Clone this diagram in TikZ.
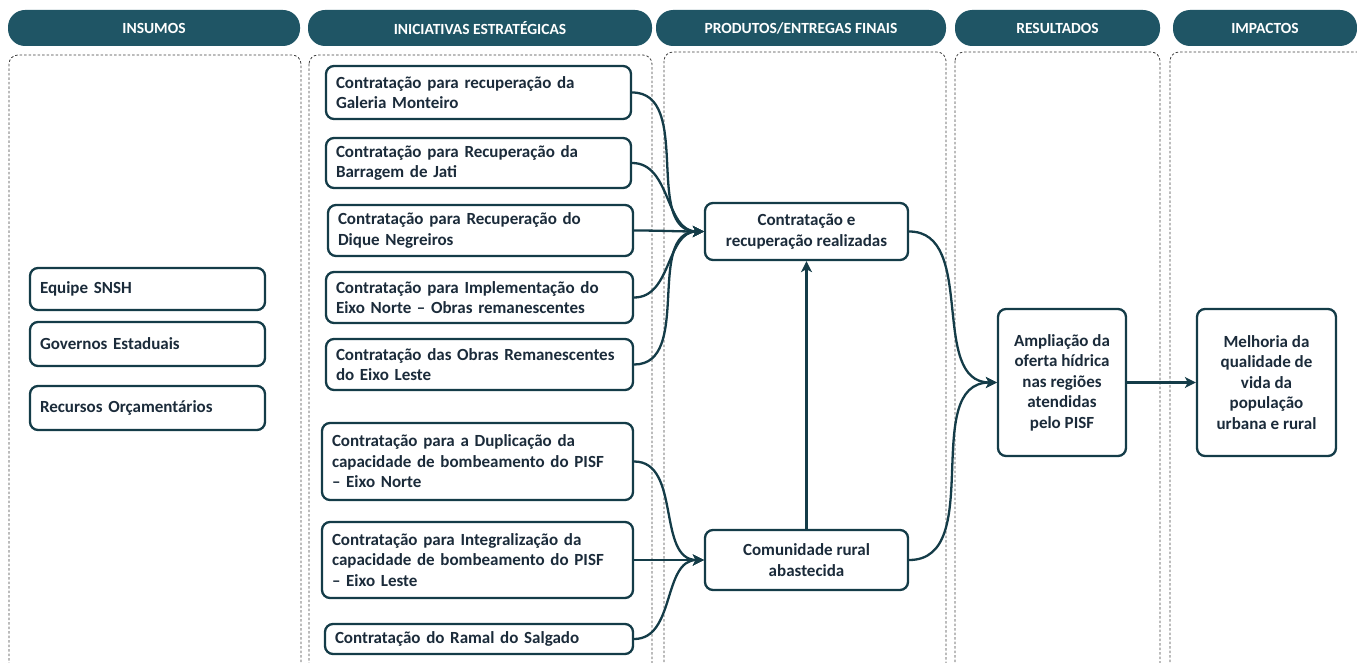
\documentclass[tikz,border=0pt]{standalone}
\usepackage{fontspec}
\setmainfont{Carlito}
\usetikzlibrary{arrows.meta}
\definecolor{hdrfill}{HTML}{1F5565}
\definecolor{boxline}{HTML}{143C48}
\definecolor{txt}{HTML}{1B2B3A}
\definecolor{dashc}{HTML}{404040}
\tikzset{
  hdr/.style={fill=hdrfill, rounded corners=17pt, minimum height=36pt, inner sep=0pt, text=white, font=\fontsize{15.5}{17}\selectfont\bfseries},
  panel/.style={draw=dashc, dashed, dash pattern=on 2.5pt off 2pt, line width=0.8pt, rounded corners=9pt},
  box/.style={draw=boxline, line width=2.3pt, rounded corners=8pt, fill=white, text=txt, inner xsep=10pt, inner ysep=3pt, font=\fontsize{17}{20.5}\selectfont\bfseries},
  lbox/.style={box, align=left},
  cbox/.style={box, align=center},
  arr/.style={draw=boxline, line width=2.3pt, -{Stealth[length=11pt,width=11pt,inset=3pt]}},
}
\begin{document}
\begin{tikzpicture}[x=1pt,y=-1pt]
\clip (0,0) rectangle (1357,663);
\useasboundingbox (0,0) rectangle (1357,663);
% headers
\node[hdr, minimum width=292pt] (h1) at (154,28) {INSUMOS};
\node[hdr, minimum width=344pt] (h2) at (480,28) {INICIATIVAS ESTRATÉGICAS};
\node[hdr, minimum width=290pt] (h3) at (801,28) {PRODUTOS/ENTREGAS FINAIS};
\node[hdr, minimum width=205pt] (h4) at (1057.5,28) {RESULTADOS};
\node[hdr, minimum width=184pt] (h5) at (1265,28) {IMPACTOS};
% panels
\draw[panel] (9,55) rectangle (301,680);
\draw[panel] (309,55) rectangle (652,680);
\draw[panel] (664,52) rectangle (946,680);
\draw[panel] (955,52) rectangle (1160,680);
\draw[panel] (1170,52) rectangle (1380,680);
% insumos
\node[lbox, minimum width=235pt, minimum height=42pt, text width=215pt] (i1) at (147.5,289) {Equipe SNSH};
\node[lbox, minimum width=235pt, minimum height=44pt, text width=215pt] (i2) at (147.5,344) {Governos Estaduais};
\node[lbox, minimum width=235pt, minimum height=44pt, text width=215pt] (i3) at (147.5,408) {Recursos Orçamentários};
% iniciativas
\node[lbox, minimum width=305pt, minimum height=53pt, text width=285pt] (e1) at (478.5,92.5) {Contratação para recuperação da\\Galeria Monteiro};
\node[lbox, minimum width=305pt, minimum height=50pt, text width=285pt] (e2) at (478.5,163) {Contratação para Recuperação da\\Barragem de Jati};
\node[lbox, minimum width=305pt, minimum height=51pt, text width=285pt] (e3) at (480.5,230.5) {Contratação para Recuperação do\\Dique Negreiros};
\node[lbox, minimum width=307pt, minimum height=51pt, text width=287pt] (e4) at (479.5,297.5) {Contratação para Implementação do\\Eixo Norte – Obras remanescentes};
\node[lbox, minimum width=307pt, minimum height=51pt, text width=287pt] (e5) at (479.5,364.5) {Contratação das Obras Remanescentes\\do Eixo Leste};
\node[lbox, minimum width=311pt, minimum height=77pt, text width=291pt] (e6) at (477.5,461.5) {Contratação para a Duplicação da\\capacidade de bombeamento do PISF\\– Eixo Norte};
\node[lbox, minimum width=311pt, minimum height=76pt, text width=291pt] (e7) at (477.5,560) {Contratação para Integralização da\\capacidade de bombeamento do PISF\\– Eixo Leste};
\node[lbox, minimum width=308pt, minimum height=30pt, text width=288pt, inner ysep=1pt] (e8) at (479,639) {Contratação do Ramal do Salgado};
% produtos
\node[cbox, minimum width=203pt, minimum height=57pt] (p1) at (806.5,231.5) {Contratação e\\recuperação realizadas};
\node[cbox, minimum width=203pt, minimum height=60pt] (p2) at (806.5,560) {Comunidade rural\\abastecida};
% resultados / impactos
\node[cbox, minimum width=128pt, minimum height=147pt, inner xsep=2pt] (r1) at (1062,382.5) {Ampliação da\\oferta hídrica\\nas regiões\\atendidas\\pelo PISF};
\node[cbox, minimum width=139pt, minimum height=147pt, inner xsep=2pt] (m1) at (1266.5,382.5) {Melhoria da\\qualidade de\\vida da\\população\\urbana e rural};
% connectors
\foreach \s in {e1,e2,e3,e4,e5} \draw[arr] (\s.east) to[out=0,in=180] (p1.west);
\foreach \s in {e6,e7,e8} \draw[arr] (\s.east) to[out=0,in=180] (p2.west);
\draw[arr] (p2.north) -- (p1.south);
\draw[arr] (p1.east) to[out=0,in=180] (r1.west);
\draw[arr] (p2.east) to[out=0,in=180] (r1.west);
\draw[arr] (r1.east) -- (m1.west);
\end{tikzpicture}
\end{document}
